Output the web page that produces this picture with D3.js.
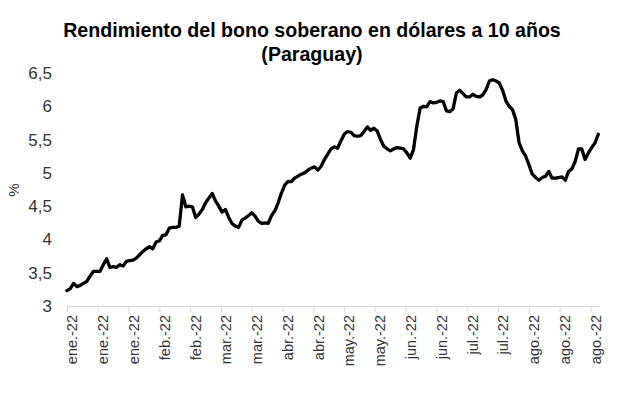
<!DOCTYPE html>
<html>
<head>
<meta charset="utf-8">
<script src="https://cdn.jsdelivr.net/npm/d3@7"></script>
<style>
  html, body { margin: 0; padding: 0; background: #fff; }
  svg { display: block; font-family: "Liberation Sans", Arial, sans-serif; }
</style>
</head>
<body>
<svg id="chart" width="617" height="397"></svg>
<script>
// ---- data ----
const titleLines = ["Rendimiento del bono soberano en dólares a 10 años", "(Paraguay)"];
const yLabel = "%";
const yTicks = [3, 3.5, 4, 4.5, 5, 5.5, 6, 6.5];
const xTickLabels = ["ene.-22","ene.-22","ene.-22","feb.-22","feb.-22","mar.-22","mar.-22","abr.-22","abr.-22",
                     "may.-22","may.-22","jun.-22","jun.-22","jul.-22","jul.-22","ago.-22","ago.-22","ago.-22"];
// daily yield (%), in order
const yields = [
  3.23,3.26,3.34,3.29,3.31,3.34,3.37,3.45,3.52,3.52,
  3.52,3.62,3.71,3.58,3.59,3.58,3.62,3.60,3.67,3.68,
  3.69,3.72,3.77,3.82,3.86,3.89,3.86,3.96,3.98,4.06,
  4.07,4.17,4.18,4.18,4.20,4.67,4.49,4.50,4.49,4.33,
  4.38,4.45,4.55,4.62,4.69,4.58,4.50,4.41,4.45,4.33,
  4.24,4.20,4.18,4.29,4.32,4.36,4.40,4.35,4.27,4.24,
  4.25,4.24,4.36,4.43,4.55,4.70,4.82,4.87,4.87,4.92,
  4.95,4.98,5.00,5.04,5.07,5.09,5.04,5.10,5.20,5.28,
  5.36,5.39,5.37,5.48,5.58,5.62,5.61,5.56,5.55,5.56,
  5.62,5.69,5.64,5.67,5.63,5.50,5.40,5.36,5.33,5.36,
  5.38,5.37,5.36,5.30,5.22,5.35,5.70,5.97,6.00,5.99,
  6.07,6.05,6.06,6.08,6.07,5.93,5.92,5.96,6.20,6.24,
  6.19,6.14,6.14,6.18,6.15,6.14,6.17,6.25,6.38,6.40,
  6.38,6.35,6.24,6.08,6.00,5.95,5.80,5.45,5.33,5.25,
  5.12,4.98,4.93,4.89,4.93,4.95,5.02,4.92,4.92,4.93,
  4.94,4.89,5.02,5.06,5.17,5.36,5.36,5.20,5.30,5.38,
  5.45,5.58
];

// ---- layout ----
const svg = d3.select("#chart");
const plot = { left: 67, right: 598.3, top: 73, bottom: 306 };
const axisEnd = 599;
const tickStep = 9.33; // data points between labelled ticks

const x = d3.scaleLinear().domain([0, yields.length - 1]).range([plot.left, plot.right]);
const y = d3.scaleLinear().domain([3, 6.5]).range([plot.bottom, plot.top]);

// title
const title = svg.append("text")
  .attr("x", 312).attr("text-anchor", "middle")
  .attr("font-size", 19.6).attr("font-weight", "bold").attr("fill", "#000");
title.selectAll("tspan").data(titleLines).join("tspan")
  .attr("x", 312).attr("y", (d, i) => 37 + i * 24).text(d => d);

// y axis (labels only)
const yAxis = d3.axisLeft(y).tickValues(yTicks).tickSize(0).tickPadding(0)
  .tickFormat(d => d3.format("~g")(d).replace(".", ","));
const gy = svg.append("g").attr("transform", `translate(52,0)`).call(yAxis);
gy.select(".domain").remove();
gy.selectAll("text").attr("font-size", 17).attr("fill", "#333")
  .attr("font-family", "'Liberation Sans', Arial, sans-serif");

svg.append("text")
  .attr("transform", `translate(19,190) rotate(-90)`)
  .attr("text-anchor", "middle")
  .attr("font-size", 15).attr("fill", "#333").text(yLabel);

// x axis
const tickIdx = xTickLabels.map((d, i) => i * tickStep);
const xAxis = d3.axisBottom(x).tickValues(tickIdx).tickSizeInner(6).tickSizeOuter(0)
  .tickFormat((d, i) => xTickLabels[i]);
const gx = svg.append("g").attr("transform", `translate(0,${plot.bottom})`).call(xAxis);
gx.select(".domain").attr("d", `M${plot.left},0.5H${axisEnd}`).attr("stroke", "#d9d9d9").attr("stroke-width", 1);
gx.selectAll(".tick line").attr("stroke", "#d9d9d9");
gx.selectAll(".tick text")
  .attr("font-size", 14.5).attr("fill", "#333")
  .attr("font-family", "'Liberation Sans', Arial, sans-serif")
  .attr("text-anchor", "end")
  .attr("transform", "rotate(-90)")
  .attr("x", -9).attr("y", 0).attr("dy", "0.68em");

// line
const line = d3.line().x((d, i) => x(i)).y(d => y(d)).curve(d3.curveLinear);
svg.append("path").datum(yields)
  .attr("d", line)
  .attr("fill", "none").attr("stroke", "#000")
  .attr("stroke-width", 3.3).attr("stroke-linejoin", "round").attr("stroke-linecap", "round");
</script>
</body>
</html>
